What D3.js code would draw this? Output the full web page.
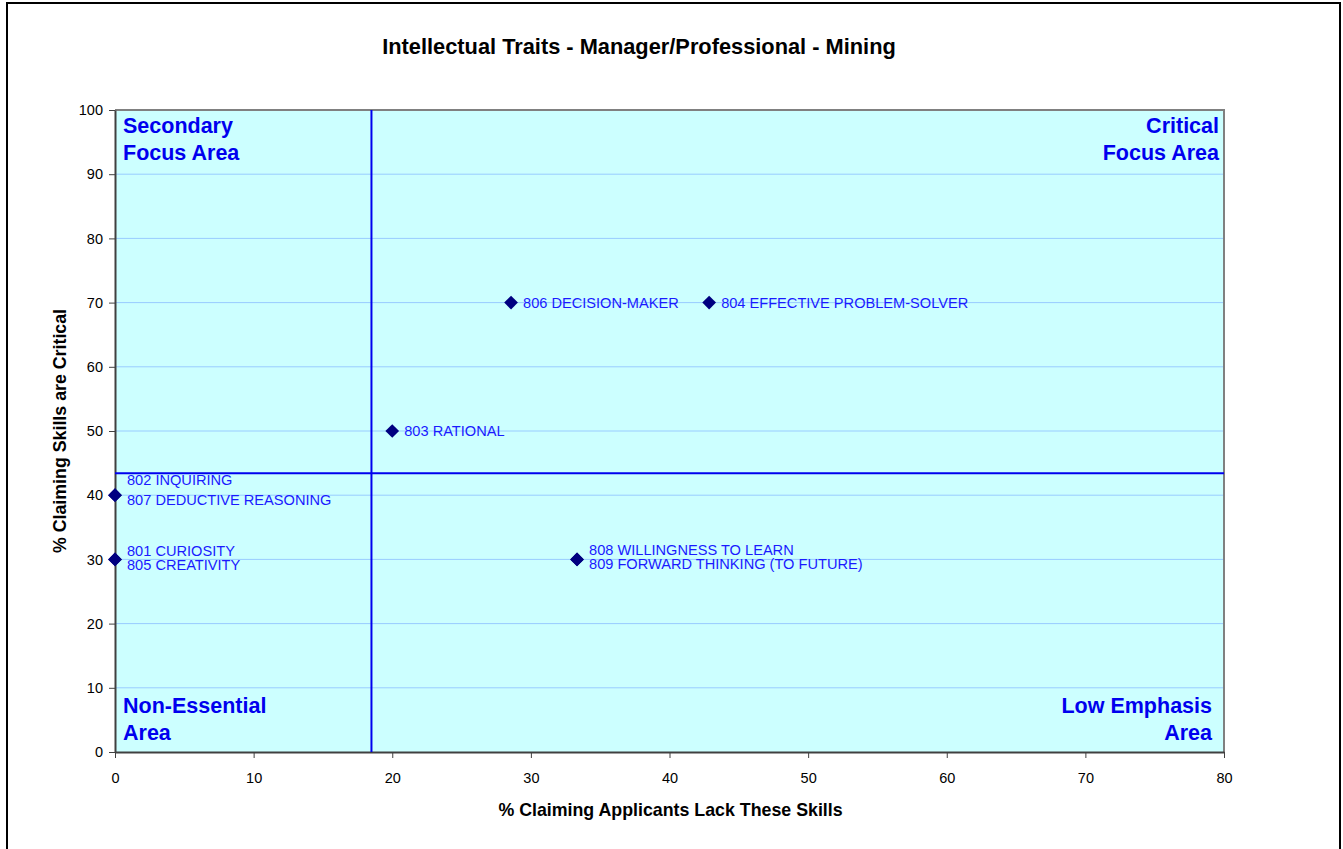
<!DOCTYPE html>
<html><head><meta charset="utf-8">
<script src="https://cdn.jsdelivr.net/npm/d3@7"></script>
<style>body{margin:0;background:#fff;}svg{display:block;font-family:Arial,"Liberation Sans",sans-serif;}</style>
</head><body>
<svg id="c" width="1343" height="849"></svg>
<script>
const codes = ["801","802","803","804","805","806","807","808","809"];
const names = ["CURIOSITY","INQUIRING","RATIONAL","EFFECTIVE PROBLEM-SOLVER","CREATIVITY","DECISION-MAKER","DEDUCTIVE REASONING","WILLINGNESS TO LEARN","FORWARD THINKING (TO FUTURE)"];
const lackPct = [0, 0, 20, 42.86, 0, 28.57, 0, 33.33, 33.33];
const criticalPct = [30, 40, 50, 70, 30, 70, 40, 30, 30];
const xTicks = [0,10,20,30,40,50,60,70,80];
const yTicks = [0,10,20,30,40,50,60,70,80,90,100];
const xDivider = 18.5;
const yDivider = 43.4;

const svg = d3.select("#c");
const L=115, R=1224, T=110, B=752;
const x = d3.scaleLinear().domain([0,80]).range([L,R]);
const y = d3.scaleLinear().domain([0,100]).range([B,T]);

// outer frame
svg.append("rect").attr("x",7).attr("y",3).attr("width",1333).attr("height",870)
  .attr("fill","none").attr("stroke","#000").attr("stroke-width",2);

// title
svg.append("text").attr("x",639).attr("y",54).attr("text-anchor","middle")
  .attr("font-size",21.8).attr("font-weight","bold").text("Intellectual Traits - Manager/Professional - Mining");

// plot background
svg.append("rect").attr("x",L).attr("y",T).attr("width",R-L).attr("height",B-T).attr("fill","#ccffff");

// gridlines
svg.append("g").selectAll("line").data(yTicks.filter(d=>d>0&&d<100)).join("line")
  .attr("x1",L).attr("x2",R).attr("y1",d=>y(d)).attr("y2",d=>y(d))
  .attr("stroke","#99ccff").attr("stroke-width",1);

// plot border top/right
svg.append("path").attr("d",`M${L},${T}H${R}V${B}`).attr("fill","none").attr("stroke","#808080").attr("stroke-width",2);

// axes
const yAxis = svg.append("g").attr("transform",`translate(${L},0)`)
  .call(d3.axisLeft(y).tickValues(yTicks).tickSize(6).tickSizeOuter(0));
const xAxis = svg.append("g").attr("transform",`translate(0,${B})`)
  .call(d3.axisBottom(x).tickValues(xTicks).tickSize(6).tickSizeOuter(0));
[yAxis,xAxis].forEach(a=>{
  a.select(".domain").attr("stroke","#404040").attr("stroke-width",2);
  a.selectAll(".tick line").attr("stroke","#404040");
  a.selectAll("text").attr("font-size",14.5).attr("font-family","Arial,'Liberation Sans',sans-serif").attr("fill","#000");
});
yAxis.selectAll("text").attr("x",-12);
xAxis.selectAll("text").attr("dy","1.55em");

// divider lines
svg.append("line").attr("x1",x(xDivider)).attr("x2",x(xDivider)).attr("y1",T).attr("y2",B)
  .attr("stroke","#0000ee").attr("stroke-width",2);
svg.append("line").attr("x1",L).attr("x2",R).attr("y1",y(yDivider)).attr("y2",y(yDivider))
  .attr("stroke","#0000ee").attr("stroke-width",2);

// axis titles
svg.append("text").attr("transform",`translate(66,${(T+B)/2}) rotate(-90)`).attr("text-anchor","middle")
  .attr("font-size",17.8).attr("font-weight","bold").text("% Claiming Skills are Critical");
svg.append("text").attr("x",(L+R)/2 + 1).attr("y",816).attr("text-anchor","middle")
  .attr("font-size",17.8).attr("font-weight","bold").text("% Claiming Applicants Lack These Skills");

// quadrant labels
const qcol="#0000ee";
const quad = [
  {lines:["Secondary","Focus Area"], x:L+8, y:T+23, a:"start"},
  {lines:["Critical","Focus Area"], x:R-5, y:T+23, a:"end"},
  {lines:["Non-Essential","Area"], x:L+8, y:B-39, a:"start"},
  {lines:["Low Emphasis","Area"], x:R-12, y:B-39, a:"end"}
];
quad.forEach(q=>{
  q.lines.forEach((t,i)=>{
    svg.append("text").attr("x",q.x).attr("y",q.y+i*27).attr("text-anchor",q.a)
      .attr("font-size",21.5).attr("font-weight","bold").attr("fill",qcol).text(t);
  });
});

// points
const pts = codes.map((c,i)=>({code:c,name:names[i],x:lackPct[i],y:criticalPct[i]}));
const sym = d3.symbol().type(d3.symbolDiamond2).size(120);
svg.append("g").selectAll("path").data(pts).join("path")
  .attr("transform",d=>`translate(${x(d.x)},${y(d.y)})`)
  .attr("d",sym).attr("fill","#000080");

// labels, stacked when points share a position
const groups = d3.groups(pts, d=>d.x+","+d.y);
groups.forEach(([k,arr])=>{
  const n = arr.length;
  arr.forEach((d,i)=>{
    let off = 0;
    if (n>1) {
      if (d.x===0 && d.y===40) off = (i===0 ? -15 : 5);
      else if (d.x===0) off = (i===0 ? -9 : 5);
      else off = (i===0 ? -10 : 4);
    }
    svg.append("text").attr("x",x(d.x)+12).attr("y",y(d.y)+off).attr("dy","0.35em")
      .attr("font-size",14.6).attr("fill","#1a1aff").text(d.code+" "+d.name);
  });
});
</script>
</body></html>
